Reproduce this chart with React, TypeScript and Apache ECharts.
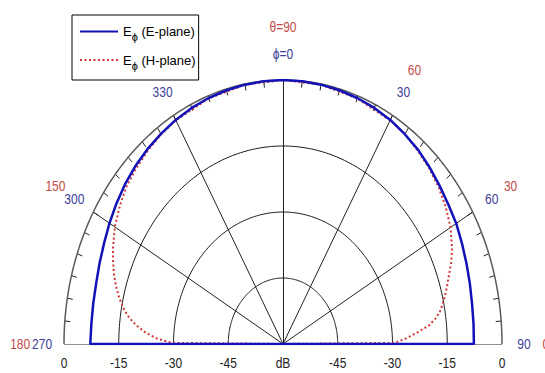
import React, { useEffect, useRef } from "react";
import * as echarts from "echarts";

// ---- data (angles in degrees from broadside, values in dB) ----
const DB_MIN = -60;
const ringLevels = [-45, -30, -15];
const spokeAngles = [-60, -30, 0, 30, 60];

const ePlaneAngles = [-90, -90, -85, -80, -75, -70, -65, -60, -55, -50, -45, -40, -35, -30, -25, -20, -15, -10, -5, 0, 5, 10, 15, 20, 25, 30, 35, 40, 45, 50, 55, 60, 65, 70, 75, 80, 85, 90, 90];
const ePlaneDb = [-60, -7.2, -7.3, -7.2, -7.0, -6.5, -5.9, -5.1, -4.3, -3.5, -2.8, -2.2, -1.7, -1.2, -0.8, -0.5, -0.3, -0.15, -0.05, 0, -0.05, -0.15, -0.3, -0.5, -0.8, -1.2, -1.8, -2.4, -3.2, -4.0, -4.7, -5.2, -5.9, -6.5, -7.0, -7.4, -7.6, -7.7, -60];

const hPlaneAngles = [-90, -89.5, -88, -86, -84, -82, -80, -77, -74, -71, -68, -65, -60, -55, -50, -45, -40, -35, -30, -20, -10, 0, 10, 20, 30, 35, 40, 45, 50, 55, 60, 65, 68, 71, 74, 77, 80, 82, 84, 86, 88, 89.5, 90];
const hPlaneDb = [-60, -29.5, -25.5, -22.2, -19.6, -17.5, -15.9, -14.0, -12.4, -11.0, -9.8, -8.6, -6.8, -5.4, -4.1, -3.3, -2.5, -1.8, -1.3, -0.6, -0.15, 0, -0.15, -0.6, -1.3, -1.8, -2.6, -3.4, -4.4, -5.6, -7.0, -8.9, -10.3, -11.9, -13.3, -14.7, -16.2, -17.7, -19.8, -23.2, -26.5, -29.5, -60];

const radialLabels = ["0", "-15", "-30", "-45", "dB", "-45", "-30", "-15", "0"];
const radialValues = [0, -15, -30, -45, -60, -45, -30, -15, 0];

const phiLabels = ["270", "300", "330", "\u03d5=0", "30", "60", "90"];
const phiAngles = [-90, -60, -30, 0, 30, 60, 90];
const thetaLabels = ["180", "150", "\u03b8=90", "60", "30", "0"];
const thetaAngles = [-90, -60, 0, 30, 60, 90];

// ---- styles ----
const FONT = "'Liberation Sans', Arial, sans-serif";
const BLUE = "#1212b8";
const RED = "#d03838";
const BLUE_TXT = "#40409a";
const RED_TXT = "#c24a4a";

const norm = (db: number) => Math.max(0, (db - DB_MIN) / -DB_MIN);
const toXY = (deg: number, db: number, scale = 1) => {
  const r = norm(db) * scale;
  const a = (deg * Math.PI) / 180;
  return [r * Math.sin(a), r * Math.cos(a)];
};

export default function App() {
  const ref = useRef<HTMLDivElement>(null);
  useEffect(() => {
    if (!ref.current) return;
    const chart = echarts.init(ref.current, undefined, { renderer: "svg" });

    const arc = (db: number) => {
      const pts: number[][] = [];
      for (let d = -90; d <= 90; d += 1) pts.push(toXY(d, db));
      return pts;
    };

    const ringSeries = ringLevels.map((lv) => ({
      type: "line",
      data: arc(lv),
      showSymbol: false,
      silent: true,
      z: 1,
      lineStyle: { color: "#1a1a1a", width: 1 },
    }));

    const gridLines: any[] = [];
    spokeAngles.forEach((a) => gridLines.push({ coords: [[0, 0], toXY(a, 0)] }));
    gridLines.push({ coords: [toXY(-90, 0), toXY(90, 0)] });
    const ticks: any[] = [];
    for (let d = -85; d <= 85; d += 5) {
      ticks.push({ coords: [toXY(d, 0), toXY(d, -1.5)] });
    }

    const option: any = {
      animation: false,
      grid: { left: 64, right: 43, top: 80, bottom: 29 },
      xAxis: { type: "value", min: -1, max: 1, show: false },
      yAxis: { type: "value", min: 0, max: 1, show: false },
      legend: {
        data: ["E-plane", "H-plane"],
        orient: "vertical",
        left: 72,
        top: 15,
        padding: [10, 3, 9, 7],
        itemGap: 11,
        itemWidth: 38,
        itemHeight: 14,
        borderColor: "#000",
        borderWidth: 1,
        backgroundColor: "#fff",
        selectedMode: false,
        itemStyle: { opacity: 0 },
        formatter: (n: string) => `{e|E}{s|\u03d5} (${n})`,
        textStyle: {
          fontFamily: FONT,
          fontSize: 13,
          color: "#000",
          rich: {
            e: { fontFamily: FONT, fontSize: 13, color: "#000" },
            s: { fontFamily: FONT, fontSize: 11, color: "#000", padding: [11, 0, 0, 0] },
          },
        },
      },
      series: [
        ...ringSeries,
        {
          type: "line",
          data: arc(0),
          showSymbol: false,
          silent: true,
          z: 1,
          lineStyle: { color: "#5a5a5a", width: 1.5 },
        },
        {
          type: "lines",
          coordinateSystem: "cartesian2d",
          silent: true,
          z: 1,
          data: gridLines,
          lineStyle: { color: "#222", width: 1, opacity: 1, curveness: 0 },
        },
        {
          type: "lines",
          coordinateSystem: "cartesian2d",
          silent: true,
          z: 1,
          data: ticks,
          lineStyle: { color: "#222", width: 1, opacity: 1, curveness: 0 },
        },
        {
          name: "H-plane",
          type: "line",
          data: hPlaneAngles.map((a, i) => toXY(a, hPlaneDb[i])),
          showSymbol: false,
          symbol: "none",
          z: 3,
          lineStyle: { color: RED, width: 2, type: [2, 2.5] },
          itemStyle: { color: RED },
        },
        {
          name: "E-plane",
          type: "line",
          data: ePlaneAngles.map((a, i) => toXY(a, ePlaneDb[i])),
          showSymbol: false,
          symbol: "none",
          z: 4,
          lineStyle: { color: BLUE, width: 2.5 },
          itemStyle: { color: BLUE },
        },
      ],
    };
    chart.setOption(option);

    // text labels placed through the grid's own scale
    const px = (xy: number[]) => chart.convertToPixel({ gridIndex: 0 }, xy) as number[];
    const txt = (t: string, p: number[], fill: string, dy = 0) => ({
      type: "text",
      x: p[0],
      y: p[1] + dy,
      scaleX: 0.8,
      silent: true,
      z: 10,
      style: {
        text: t,
        fill,
        fontFamily: FONT,
        fontSize: 15,
        align: "center",
        verticalAlign: "middle",
      },
    });
    const graphics: any[] = [];
    phiLabels.forEach((t, i) => graphics.push(txt(t, px(toXY(phiAngles[i], 0, 1.1)), BLUE_TXT)));
    thetaLabels.forEach((t, i) => graphics.push(txt(t, px(toXY(thetaAngles[i], 0, 1.2)), RED_TXT)));
    radialLabels.forEach((t, i) =>
      graphics.push(txt(t, px([(i < 4 ? -1 : 1) * norm(radialValues[i]), 0]), "#222", 19))
    );
    chart.setOption({ graphic: graphics });

    return () => chart.dispose();
  }, []);

  return (
    <div style={{ position: "fixed", left: 0, top: 0, width: 545, height: 373, background: "#fff" }}>
      <div ref={ref} style={{ width: 545, height: 373 }} />
    </div>
  );
}
